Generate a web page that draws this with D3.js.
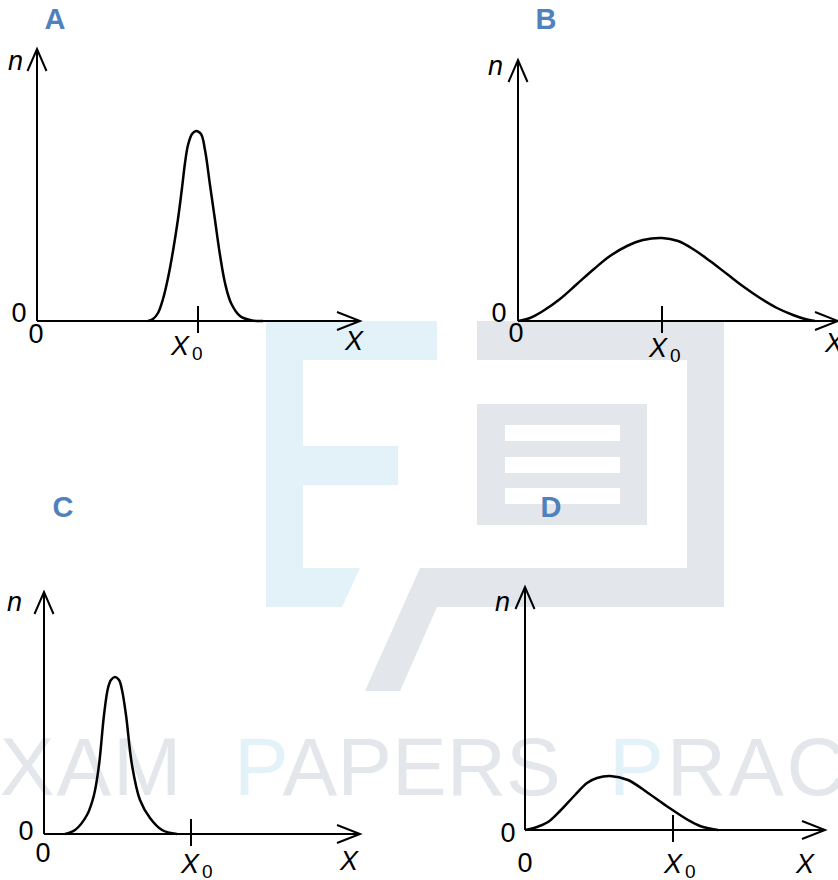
<!DOCTYPE html>
<meta charset="utf-8">
<style>
  body { margin: 0; background: #fff; }
  svg { display: block; font-family: "Liberation Sans", Arial, sans-serif; }
  .axis-line { fill: none; stroke: #000; stroke-width: 2px; }
  .curve { fill: none; stroke: #000; stroke-width: 2.5px; stroke-linejoin: round; }
  .lbl { font-size: 27px; fill: #000; }
  .sub { font-size: 19px; fill: #000; }
  .it { font-style: italic; }
  .panel-name { font-size: 29px; font-weight: bold; fill: #4f81bd; text-anchor: middle; }
  .wm-blue { fill: #e3f2f8; }
  .wm-grey { fill: #e3e6ea; }
  .wm-text { font-size: 82px; }
</style>

<body>
  <script src="https://cdn.jsdelivr.net/npm/d3@7"></script>
  <script>

    // panel letters
    var panelNames = ["A", "B", "C", "D"];

    // axis extents and position of the X0 tick (arbitrary units)
    var xMaxValues = [32.3, 32.0, 31.6, 30.0];
    var yMaxValues = [27.2, 26.1, 24.2, 24.3];
    var x0Values = [16.1, 14.4, 14.7, 14.8];

    // distributions: [X, n]
    var curveA = [[11.1, 0], [11.6, 0.2], [12.1, 0.8], [12.6, 2.2], [13.1, 4.3], [13.6, 7.0],
      [14.1, 10.2], [14.5, 13.3], [14.8, 15.8], [15.1, 17.6], [15.5, 18.7], [15.9, 19.0],
      [16.4, 18.7], [16.8, 17.1], [17.3, 13.6], [17.8, 10.1], [18.3, 6.6], [18.8, 3.8],
      [19.4, 1.8], [20.3, 0.5], [21.5, 0.05], [22.6, 0]];
    var curveB = [[0, 0], [1.2, 0.3], [2.5, 1.0], [4.2, 2.2], [5.9, 3.7], [7.6, 5.2], [9.2, 6.5],
      [10.9, 7.5], [12.5, 8.1], [14.4, 8.3], [16.0, 8.0], [17.5, 7.2], [19.2, 6.0], [20.9, 4.7],
      [22.6, 3.4], [24.2, 2.3], [25.9, 1.3], [27.5, 0.6], [28.7, 0.2], [29.7, 0]];
    var curveC = [[2.1, 0], [3.1, 0.4], [4.3, 1.9], [5.0, 3.9], [5.5, 6.9], [6.0, 11.9],
      [6.4, 14.6], [6.7, 15.4], [7.1, 15.7], [7.5, 15.4], [7.8, 14.4], [8.2, 11.9], [8.8, 6.9],
      [9.6, 3.4], [10.6, 1.6], [11.8, 0.4], [13.3, 0]];
    var curveD = [[0, 0], [1.2, 0.3], [2.3, 0.8], [3.5, 1.9], [5.0, 3.5], [6.2, 4.7], [7.2, 5.2],
      [8.5, 5.4], [10.3, 5.0], [12.3, 3.7], [14.3, 2.3], [16.3, 1.0], [17.5, 0.4], [19.3, 0]];

    var curves = [curveA, curveB, curveC, curveD];

    // where each small plot sits on the page, and where its labels go
    var layout = [
      {ox: 37,  oy: 321, w: 323, h: 272, nameX: 55,  nameY: 29,  nDx: -14, nDy: 21, zDx: -18, zDy: 1,  z2Dx: -1, z2Dy: 22, xDx: -6,  xDy: 29, x0Dx: -9, x0Dy: 34},
      {ox: 518, oy: 321, w: 320, h: 261, nameX: 546, nameY: 29,  nDx: -15, nDy: 15, zDx: -19, zDy: 1,  z2Dx: -2, z2Dy: 21, xDx: -4,  xDy: 31, x0Dx: 5,  x0Dy: 36},
      {ox: 44,  oy: 834, w: 316, h: 242, nameX: 63,  nameY: 517, nDx: -22, nDy: 19, zDx: -18, zDy: 6,  z2Dx: -1, z2Dy: 28, xDx: -11, xDy: 36, x0Dx: 8,  x0Dy: 39},
      {ox: 525, oy: 830, w: 300, h: 243, nameX: 551, nameY: 517, nDx: -15, nDy: 24, zDx: -17, zDy: 12, z2Dx: 0,  z2Dy: 42, xDx: -20, xDy: 43, x0Dx: 9,  x0Dy: 43}
    ];

    var svg = d3.select("body").append("svg")
      .attr("width", 838)
      .attr("height", 880);

    // faint background logo
    var wm = svg.append("g");
    wm.append("path").attr("class", "wm-blue")
      .attr("d", "M266,321H437V360H303V446H398V485H303V568H360L342,607H266Z");
    wm.append("path").attr("class", "wm-grey")
      .attr("d", "M477,321H724V607H437L400,691H365L420,568H687V360H477Z" +
                 "M477,404H647V525H477Z");
    wm.selectAll("rect.slot").data([425, 457, 488]).enter().append("rect")
      .attr("class", "slot").attr("fill", "#fff")
      .attr("x", 505).attr("y", function(d) { return d; })
      .attr("width", 115).attr("height", 16);
    wm.append("text").attr("class", "wm-grey wm-text")
      .attr("x", -57).attr("y", 795)
      .style("letter-spacing", "2px")
      .text("EXAM");
    var t2 = wm.append("text").attr("class", "wm-grey wm-text").attr("x", 234).attr("y", 795);
    t2.append("tspan").attr("class", "wm-blue").text("P");
    t2.append("tspan").text("APERS");
    var t3 = wm.append("text").attr("class", "wm-grey wm-text").attr("x", 609).attr("y", 795)
      .style("letter-spacing", "3px");
    t3.append("tspan").attr("class", "wm-blue").text("P");
    t3.append("tspan").text("RACTICE");

    var line = d3.line().curve(d3.curveCatmullRom.alpha(0.5));

    panelNames.forEach(function(name, i) {
      var L = layout[i];
      var x = d3.scaleLinear().domain([0, xMaxValues[i]]).range([L.ox, L.ox + L.w]);
      var y = d3.scaleLinear().domain([0, yMaxValues[i]]).range([L.oy, L.oy - L.h]);
      var g = svg.append("g");

      var tipX = x(xMaxValues[i]), tipY = y(yMaxValues[i]);
      var x0 = x(0), y0 = y(0);

      // axes with open arrow heads
      g.append("path").attr("class", "axis-line")
        .attr("d", "M" + x0 + "," + y0 + "V" + tipY +
                   "M" + (x0 - 9.5) + "," + (tipY + 22) + "L" + x0 + "," + tipY + "L" + (x0 + 9.5) + "," + (tipY + 22));
      g.append("path").attr("class", "axis-line")
        .attr("d", "M" + x0 + "," + y0 + "H" + tipX +
                   "M" + (tipX - 23) + "," + (y0 - 9) + "L" + tipX + "," + y0 + "L" + (tipX - 23) + "," + (y0 + 9));

      // X0 tick
      var tx = x(x0Values[i]);
      g.append("line").attr("class", "axis-line")
        .attr("x1", tx).attr("x2", tx)
        .attr("y1", y0 - 15).attr("y2", y0 + 12);

      // distribution
      g.append("path")
        .datum(curves[i])
        .attr("class", "curve")
        .attr("d", line.x(function(d) { return x(d[0]); }).y(function(d) { return y(d[1]); }));

      // labels
      svg.append("text").attr("class", "panel-name")
        .attr("x", L.nameX).attr("y", L.nameY).text(name);

      g.append("text").attr("class", "lbl it").attr("text-anchor", "end")
        .attr("x", x0 + L.nDx).attr("y", tipY + L.nDy).text("n");
      g.append("text").attr("class", "lbl").attr("text-anchor", "middle")
        .attr("x", x0 + L.zDx).attr("y", y0 + L.zDy).text("0");
      g.append("text").attr("class", "lbl").attr("text-anchor", "middle")
        .attr("x", x0 + L.z2Dx).attr("y", y0 + L.z2Dy).text("0");
      g.append("text").attr("class", "lbl it").attr("text-anchor", "middle")
        .attr("x", tipX + L.xDx).attr("y", y0 + L.xDy).text("X");

      g.append("text").attr("class", "lbl it").attr("text-anchor", "end")
        .attr("x", tx + L.x0Dx).attr("y", y0 + L.x0Dy).text("X");
      g.append("text").attr("class", "sub").attr("text-anchor", "start")
        .attr("x", tx + L.x0Dx + 3).attr("y", y0 + L.x0Dy + 5).text("0");
    });

  </script>
</body>
